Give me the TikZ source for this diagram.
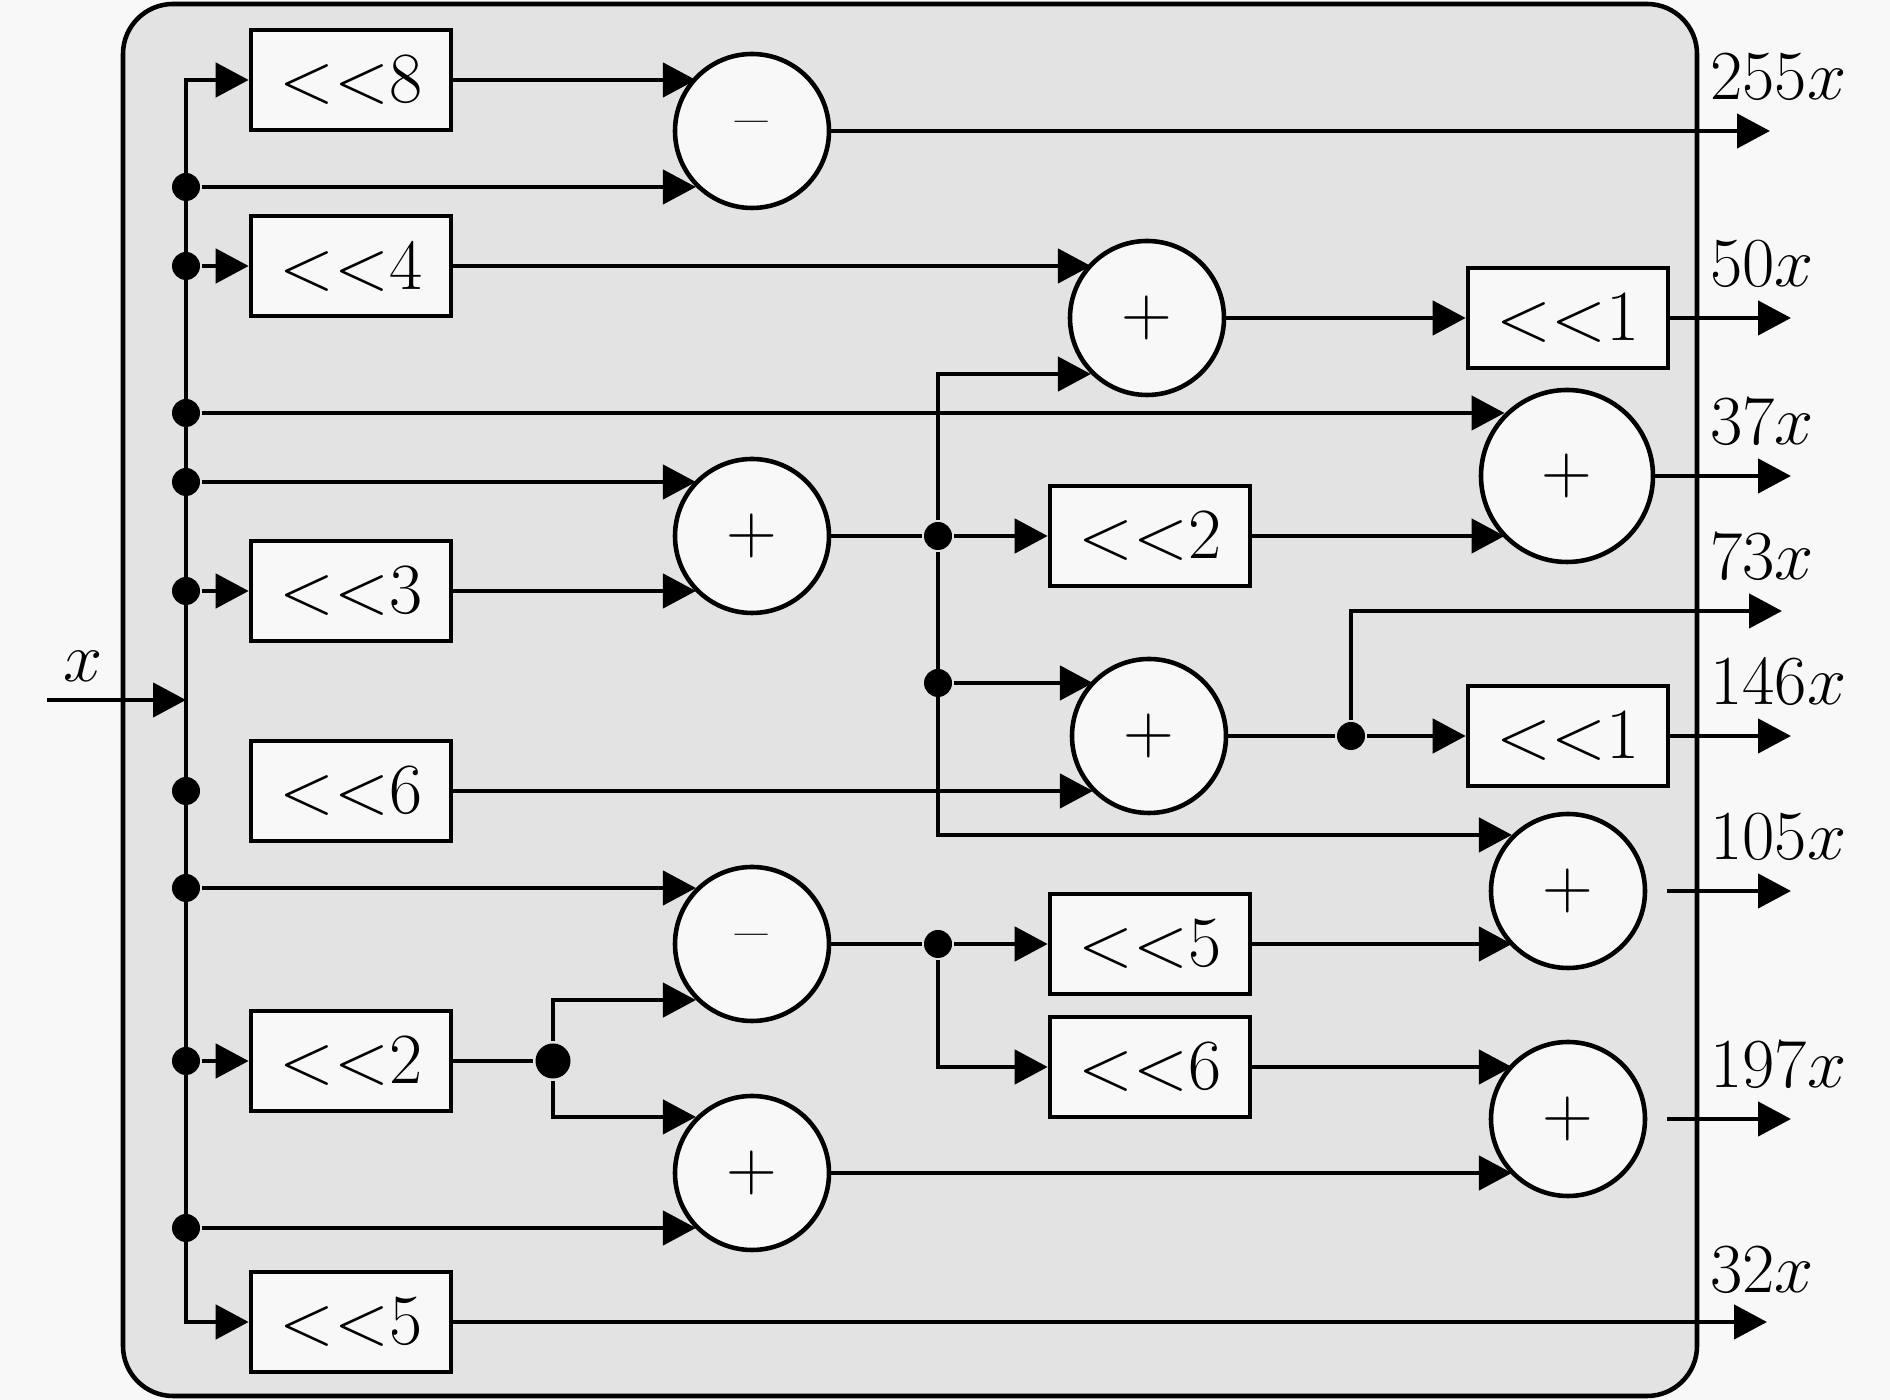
\RequirePackage{fix-cm}
\documentclass[tikz,border=0pt]{standalone}
\usetikzlibrary{positioning, arrows.meta, calc}
\definecolor{panelgray}{HTML}{E3E3E3}
\definecolor{nodewhite}{HTML}{F8F8F8}

\begin{document}
\begin{tikzpicture}[
      every node/.style={font=\fontsize{20}{24}\selectfont},
      shiftbox/.style={draw, fill=nodewhite, minimum width=2cm, minimum height=1cm, inner sep=0pt, font=\fontsize{20.5}{24}\selectfont},
      sumnode/.style={draw, circle, fill=nodewhite, minimum size=1.54cm, inner sep=0pt},
      tap/.style={circle, fill=black, minimum size=0.28cm, inner sep=0pt},
      outlabel/.style={anchor=base west, inner sep=0pt},
      >={Triangle[length=3.3mm, width=3.4mm]},
      line width=1.3pt,
    ]
    \useasboundingbox (0,0) rectangle (18.9,14);
    \fill[nodewhite] (0,0) rectangle (18.9,14);
    \draw[fill=panelgray, rounded corners=0.5cm] (1.23,0.04) rectangle (16.97,13.96);

    \node[shiftbox] (s8) at (3.51,13.20) {$<<$8};
    \node[shiftbox] (s4) at (3.51,11.34) {$<<$4};
    \node[shiftbox] (s3) at (3.51,8.09) {$<<$3};
    \node[shiftbox] (s6a) at (3.51,6.09) {$<<$6};
    \node[shiftbox] (s2a) at (3.51,3.39) {$<<$2};
    \node[shiftbox] (s5a) at (3.51,0.78) {$<<$5};
    \node[shiftbox] (s1a) at (15.68,10.82) {$<<$1};
    \node[shiftbox] (s2b) at (11.50,8.64) {$<<$2};
    \node[shiftbox] (s1b) at (15.68,6.64) {$<<$1};
    \node[shiftbox] (s5b) at (11.50,4.56) {$<<$5};
    \node[shiftbox] (s6b) at (11.50,3.33) {$<<$6};

    \node[sumnode] (sub1) at (7.52,12.69) {--};
    \node[sumnode] (add1) at (11.47,10.82) {$+$};
    \node[sumnode, minimum size=1.72cm] (add2) at (15.67,9.24) {$+$};
    \node[sumnode] (add3) at (7.52,8.64) {$+$};
    \node[sumnode] (add4) at (11.49,6.64) {$+$};
    \node[sumnode] (sub2) at (7.52,4.56) {--};
    \node[sumnode] (add5) at (7.52,2.27) {$+$};
    \node[sumnode] (add6) at (15.68,5.09) {$+$};
    \node[sumnode] (add7) at (15.68,2.81) {$+$};

    \node[tap] (t1) at (1.86,12.13) {};
    \node[tap] (t2) at (1.86,11.34) {};
    \node[tap] (t3) at (1.86,9.87) {};
    \node[tap] (t4) at (1.86,9.18) {};
    \node[tap] (t5) at (1.86,8.09) {};
    \node[tap] (t6) at (1.86,6.09) {};
    \node[tap] (t7) at (1.86,5.12) {};
    \node[tap] (t8) at (1.86,3.39) {};
    \node[tap] (t9) at (1.86,1.72) {};
    \node[tap] (j1) at (9.38,8.64) {};
    \node[tap] (j2) at (9.38,7.17) {};
    \node[tap] (j3) at (13.51,6.64) {};
    \node[tap] (j4) at (9.38,4.56) {};
    \node[tap, minimum size=0.35cm] (j5) at (5.53,3.39) {};

    \coordinate (busbot) at (1.86,0.78);
    \coordinate (xin) at (0.47,7.0);
    \coordinate (busin) at (1.86,7.0);
    \coordinate (q105) at (16.67,5.09);
    \coordinate (q197) at (16.67,2.81);
    \coordinate (o255) at (17.70,12.69);
    \coordinate (o50) at (17.91,10.82);
    \coordinate (o37) at (17.91,9.24);
    \coordinate (o73) at (17.82,7.89);
    \coordinate (o146) at (17.91,6.64);
    \coordinate (o105) at (17.91,5.09);
    \coordinate (o197) at (17.91,2.81);
    \coordinate (o32) at (17.67,0.78);

    \node (xlab) at (0.83,7.34) {$x$};
    \node[outlabel] (l255) at (17.08,13.00) {$255x$};
    \node[outlabel] (l50) at (17.08,11.13) {$50x$};
    \node[outlabel] (l37) at (17.08,9.55) {$37x$};
    \node[outlabel] (l73) at (17.08,8.20) {$73x$};
    \node[outlabel] (l146) at (17.08,6.95) {$146x$};
    \node[outlabel] (l105) at (17.08,5.40) {$105x$};
    \node[outlabel] (l197) at (17.08,3.12) {$197x$};
    \node[outlabel] (l32) at (17.08,1.07) {$32x$};

    \draw[<->] (s8) -| (busbot) -- (s5a);
    \draw[->] (xin) -- (busin);

    \draw[->] (s8) -- (s8 -| sub1.135);
    \draw[->] (t1) -- (t1 -| sub1.225);
    \draw[->] (t2) -- (s4);
    \draw[->] (s4) -- (s4 -| add1.135);
    \draw[->] (t3) -- (t3 -| add2.135);
    \draw[->] (t4) -- (t4 -| add3.135);
    \draw[->] (t5) -- (s3);
    \draw[->] (s3) -- (s3 -| add3.225);
    \draw[->] (s6a) -- (s6a -| add4.225);
    \draw[->] (t7) -- (t7 -| sub2.135);
    \draw[->] (t8) -- (s2a);
    \draw (s2a) -- (j5);
    \draw[->] (j5) |- (sub2.225);
    \draw[->] (j5) |- (add5.135);
    \draw[->] (t9) -- (t9 -| add5.225);

    \draw[->] (sub1) -- (o255);
    \draw[->] (add3) -- (j1) -- (s2b);
    \draw[->] (j1) |- (add1.225);
    \draw[->] (j1) |- (add6.135);
    \draw[->] (j2) -- (j2 -| add4.135);
    \draw[->] (s2b) -- (s2b -| add2.225);
    \draw[->] (add1) -- (s1a);
    \draw[->] (s1a) -- (o50);
    \draw[->] (add2) -- (o37);
    \draw[->] (add4) -- (j3) -- (s1b);
    \draw[->] (j3) |- (o73);
    \draw[->] (s1b) -- (o146);
    \draw[->] (sub2) -- (j4) -- (s5b);
    \draw[->] (j4) |- (s6b);
    \draw[->] (s5b) -- (s5b -| add6.225);
    \draw[->] (s6b) -- (s6b -| add7.135);
    \draw[->] (add5) -- (add5 -| add7.225);
    \draw[->] (q105) -- (o105);
    \draw[->] (q197) -- (o197);
    \draw[->] (s5a) -- (o32);
  \end{tikzpicture}
\end{document}
